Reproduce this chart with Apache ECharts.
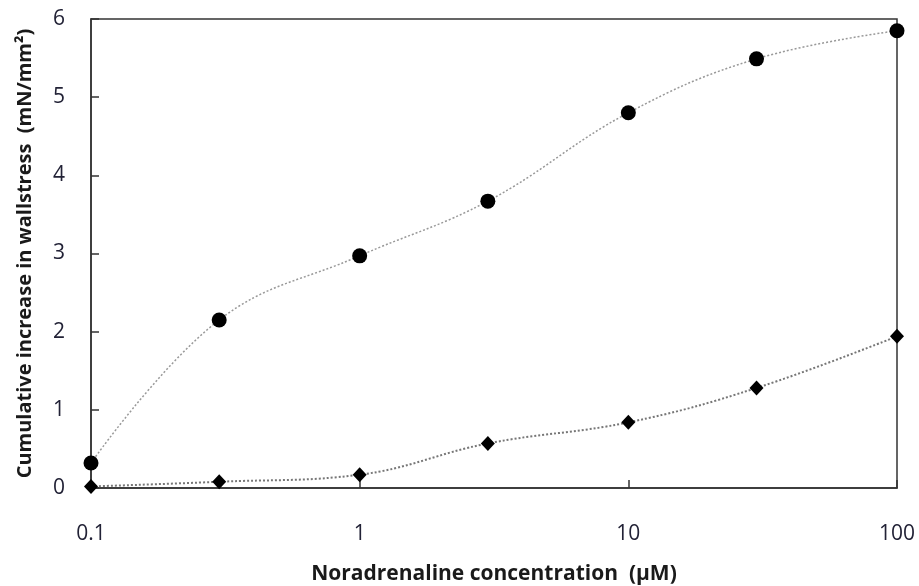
<!DOCTYPE html>
<html><head><meta charset="utf-8">
<script src="https://cdn.jsdelivr.net/npm/echarts@6/dist/echarts.min.js"></script>
<style>html,body{margin:0;padding:0;background:#fff}#c{width:919px;height:586px}</style>
</head><body><div id="c"></div>
<script>
const concentrations = [0.1, 0.3, 1, 3, 10, 30, 100];
const circleValues = [0.32, 2.15, 2.97, 3.67, 4.80, 5.49, 5.85];
const diamondValues = [0.02, 0.08, 0.17, 0.57, 0.84, 1.28, 1.94];
const xTickLabels = ['0.1', '1', '10', '100'];
const yTicks = [0, 1, 2, 3, 4, 5, 6];

const font = '"Open Sans", "Noto Sans", sans-serif';
const chart = echarts.init(document.getElementById('c'));
const pair = (xs, ys) => xs.map((x, i) => [x, ys[i]]);
chart.setOption({
  animation: false,
  grid: { left: 91, right: 22, top: 19, bottom: 98, containLabel: false, outerBoundsMode: 'none',
    show: true, borderColor: '#333', borderWidth: 1.5, backgroundColor: 'transparent' },
  xAxis: {
    type: 'log', logBase: 10, min: 0.1, max: 100,
    name: 'Noradrenaline concentration  (μM)', nameLocation: 'middle', nameGap: 76,
    nameTextStyle: { fontFamily: font, fontWeight: 'bold', fontSize: 21, color: '#1a1a1a' },
    axisLine: { lineStyle: { color: '#333', width: 1.5 } },
    axisTick: { inside: true, length: 8, lineStyle: { color: '#333', width: 1.5 } },
    minorTick: { show: false },
    splitLine: { show: false },
    axisLabel: { margin: 36, fontFamily: font, fontSize: 21, color: '#222236',
      formatter: v => { const s = xTickLabels.find(t => Math.abs(parseFloat(t) - v) < 1e-9); return s || ''; } }
  },
  yAxis: {
    type: 'value', min: 0, max: 6, interval: 1,
    name: 'Cumulative increase in wallstress  (mN/mm²)', nameLocation: 'middle', nameGap: 56,
    nameTextStyle: { fontFamily: font, fontWeight: 'bold', fontSize: 20, color: '#1a1a1a' },
    axisLine: { show: true, lineStyle: { color: '#333', width: 1.5 } },
    axisTick: { show: true, inside: true, length: 8, lineStyle: { color: '#333', width: 1.5 } },
    splitLine: { show: false },
    axisLabel: { margin: 26, fontFamily: font, fontSize: 21, color: '#222236',
      formatter: v => yTicks.includes(v) ? String(v) : '' }
  },
  series: [
    { type: 'line', data: pair(concentrations, circleValues), smooth: 0.4,
      symbol: 'circle', symbolSize: 15, itemStyle: { color: '#000' },
      lineStyle: { color: '#999', width: 1.5, type: [2, 2] } },
    { type: 'line', data: pair(concentrations, diamondValues), smooth: 0.4,
      symbol: 'diamond', symbolSize: [14, 15], itemStyle: { color: '#000' },
      lineStyle: { color: '#777', width: 2, type: [2, 2] } }
  ]
});
</script></body></html>
